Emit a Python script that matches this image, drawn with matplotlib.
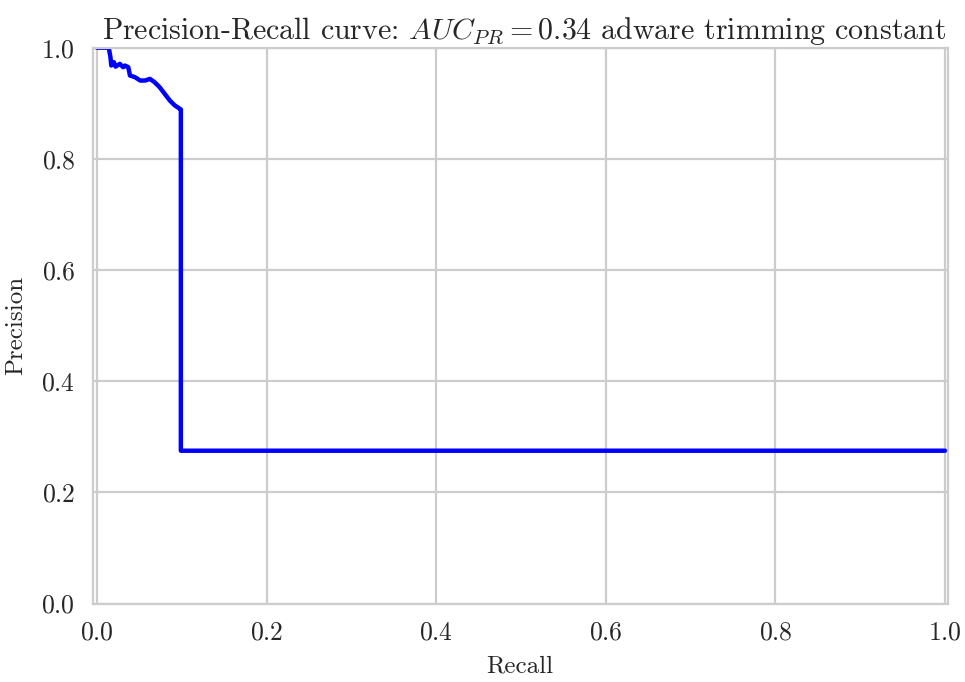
import matplotlib
matplotlib.use("Agg")
import matplotlib.pyplot as plt
import seaborn as sns

recall = [0.0, 0.014, 0.016, 0.017, 0.020, 0.022, 0.027, 0.031, 0.033, 0.037, 0.039,
          0.045, 0.051, 0.057, 0.0625, 0.068, 0.074, 0.080, 0.086, 0.092, 0.097, 0.099,
          0.099, 1.0]
precision = [1.0, 1.0, 0.983, 0.968, 0.974, 0.966, 0.971, 0.965, 0.968, 0.965, 0.950,
             0.947, 0.941, 0.941, 0.944, 0.938, 0.929, 0.917, 0.905, 0.896, 0.891, 0.889,
             0.275, 0.275]
auc_pr = 0.34
title_suffix = "adware trimming constant"

sns.set_style("whitegrid")
plt.rcParams["font.family"] = ["cmr10", "DejaVu Serif"]
plt.rcParams["mathtext.fontset"] = "cm"
plt.rcParams["axes.formatter.use_mathtext"] = True
plt.rcParams["axes.unicode_minus"] = False

fig, ax = plt.subplots(figsize=(9.65, 6.82), dpi=100)
ax.plot(recall, precision, color="blue", lw=3.2)
ax.set_xlim(-0.005, 1.003)
ax.set_ylim(0.0, 1.0)
ax.set_xlabel("Recall", fontsize=18, color="#262626", labelpad=8)
ax.set_ylabel("Precision", fontsize=18, color="#262626", labelpad=10)
ax.set_title(r"Precision-Recall curve: $AUC_{PR} = %.2f$ %s" % (auc_pr, title_suffix),
             fontsize=21.5, color="#262626", x=0.505)
ax.tick_params(labelsize=18.5, labelcolor="#262626", pad=9)
ax.grid(True, color="#cccccc", lw=1.6)
for s in ax.spines.values():
    s.set_color("#cccccc")
    s.set_linewidth(1.6)
fig.subplots_adjust(left=0.096, right=0.982, top=0.93, bottom=0.115)
fig.savefig("out.png", dpi=100)
